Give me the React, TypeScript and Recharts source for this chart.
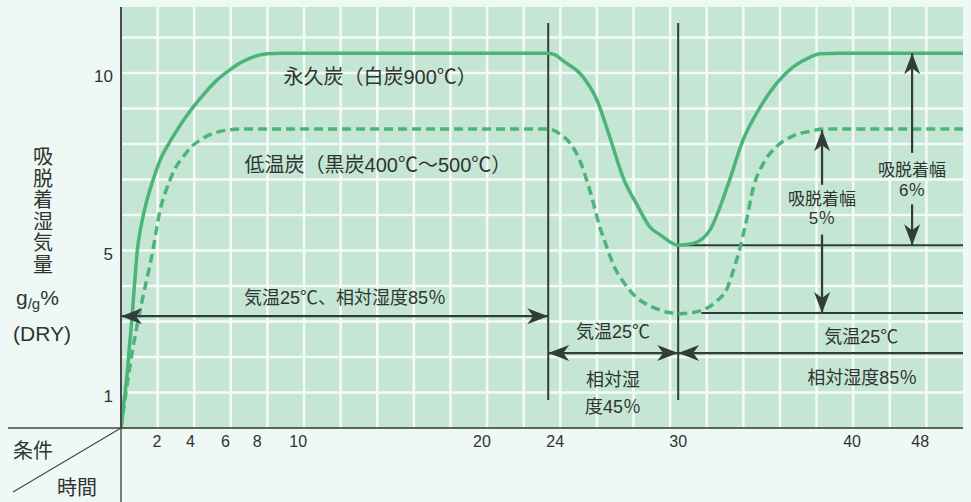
import { ComposedChart, Line, XAxis, YAxis, CartesianGrid, ReferenceLine, ReferenceDot } from 'recharts'

// x is kept in grid squares (the hour scale of the original is not linear),
// y is moisture in g/g% (1 square = 1%)
const hourTickPos = [0.98, 1.9, 2.85, 3.72, 4.84, 9.86, 11.86, 15.22, 19.97, 21.83]
const hourTickLabels = ['2', '4', '6', '8', '10', '20', '24', '30', '40', '48']
const moistureTicks = [1, 5, 10]

// 永久炭 (白炭900℃)
const whiteX = [0, 0.08, 0.16, 0.23, 0.3, 0.37, 0.44, 0.57, 0.71, 0.88, 1.07, 1.3, 1.53, 1.75, 1.97, 2.3, 2.62, 2.95, 3.25, 3.6, 3.99, 4.4,
  11.67, 11.86, 12.08, 12.62, 13.0, 13.36, 13.72, 14.1, 14.45, 14.73, 15.22,
  15.63, 16.09, 16.56, 16.99, 17.46, 17.92, 18.36, 18.83, 19.1, 19.64, 23]
const whiteY = [0, 0.75, 1.44, 2.3, 3.1, 4.05, 4.95, 5.8, 6.42, 7.0, 7.55, 8.0, 8.39, 8.73, 9.04, 9.45, 9.8, 10.07, 10.28, 10.45, 10.54, 10.56,
  10.56, 10.51, 10.34, 9.89, 9.24, 8.17, 7.04, 6.28, 5.66, 5.44, 5.15,
  5.2, 5.58, 6.79, 8.11, 9.04, 9.72, 10.17, 10.45, 10.54, 10.56, 10.56]

// 低温炭 (黒炭400℃～500℃)
const blackX = [0, 0.15, 0.3, 0.45, 0.6, 0.75, 0.87, 0.97, 1.07, 1.2, 1.34, 1.5, 1.69, 1.9, 2.16, 2.4, 2.62, 2.95, 3.25,
  11.67, 12.0, 12.27, 12.54, 12.81, 13.09, 13.28, 13.44, 13.72, 14.1, 14.45, 14.73, 15.27, 15.82, 16.28, 16.56, 16.72,
  16.91, 17.1, 17.27, 17.54, 17.92, 18.36, 18.83, 19.18, 23]
const blackY = [0, 1.1, 2.1, 2.95, 3.7, 4.4, 5.0, 5.6, 6.15, 6.6, 6.99, 7.35, 7.63, 7.9, 8.11, 8.25, 8.33, 8.4, 8.42,
  8.42, 8.28, 8.02, 7.52, 6.68, 5.63, 5.07, 4.62, 4.12, 3.66, 3.44, 3.32, 3.22, 3.3, 3.58, 3.94, 4.42,
  5.07, 5.92, 6.76, 7.44, 7.94, 8.23, 8.36, 8.42, 8.42]

const whiteData = whiteX.map((x, i) => ({ x, y: whiteY[i] }))
const blackData = blackX.map((x, i) => ({ x, y: blackY[i] }))

const gridX = Array.from({ length: 22 }, (_, i) => i + 1)
const gridY = Array.from({ length: 11 }, (_, i) => i + 1)

const INK = '#333d38'
const TEXT = '#2f3431'
const CURVE = '#4bb578'
const FONT = '"Liberation Sans", "Noto Sans CJK JP", sans-serif'

function head(x: number, y: number, ux: number, uy: number) {
  const len = 21
  const half = 8
  const notch = 6
  const px = -uy
  const py = ux
  const bx = x - ux * len
  const by = y - uy * len
  const nx = x - ux * (len - notch)
  const ny = y - uy * (len - notch)
  return (
    <path
      d={`M${x},${y} L${bx + px * half},${by + py * half} L${nx},${ny} L${bx - px * half},${by - py * half} Z`}
      fill={INK}
    />
  )
}

const arrow = (start: boolean, end: boolean) => (p: any) => {
  const { x1, y1, x2, y2 } = p
  const len = Math.hypot(x2 - x1, y2 - y1) || 1
  const ux = (x2 - x1) / len
  const uy = (y2 - y1) / len
  return (
    <g>
      <line x1={x1} y1={y1} x2={x2} y2={y2} stroke={INK} strokeWidth={2.2} />
      {start && head(x1, y1, -ux, -uy)}
      {end && head(x2, y2, ux, uy)}
    </g>
  )
}

const note = (text: string, size = 18) => (p: any) => (
  <text x={p.cx} y={p.cy} textAnchor="middle" dominantBaseline="central" fontSize={size} fill={TEXT}>
    {text}
  </text>
)

export default function App() {
  return (
    <div style={{ position: 'absolute', left: 0, top: 0, width: 971, height: 502, background: '#eef8f4', fontFamily: FONT }}>
      <ComposedChart width={971} height={502} margin={{ top: 7, right: 8, bottom: 0, left: 0 }} style={{ fontFamily: FONT }}>
        <CartesianGrid
          fill="#c5e6d4"
          stroke="#f4fbf7"
          strokeWidth={2.5}
          verticalValues={gridX}
          horizontalValues={gridY}
        />
        <XAxis
          type="number"
          dataKey="x"
          domain={[0, 23]}
          ticks={hourTickPos}
          interval={0}
          tickFormatter={(v: number) => hourTickLabels[hourTickPos.indexOf(v)]}
          height={74}
          tickLine={false}
          axisLine={{ stroke: '#333', strokeWidth: 1.5 }}
          tick={{ fontSize: 16, fill: TEXT }}
          allowDataOverflow
        />
        <YAxis
          type="number"
          domain={[0, 11.86]}
          ticks={moistureTicks}
          interval={0}
          width={121}
          tickLine={false}
          axisLine={{ stroke: '#4a4a4a', strokeWidth: 2 }}
          tick={{ fontSize: 17, fill: TEXT, dy: 3 }}
          allowDataOverflow
        />

        {/* 条件の切り替え */}
        <ReferenceLine segment={[{ x: 11.67, y: 0.79 }, { x: 11.67, y: 11.41 }]} stroke={INK} strokeWidth={2} />
        <ReferenceLine segment={[{ x: 15.22, y: 0.79 }, { x: 15.22, y: 11.41 }]} stroke={INK} strokeWidth={2} />
        <ReferenceLine segment={[{ x: 15.22, y: 5.15 }, { x: 23, y: 5.15 }]} stroke={INK} strokeWidth={2} />
        <ReferenceLine segment={[{ x: 15.85, y: 3.24 }, { x: 23, y: 3.24 }]} stroke={INK} strokeWidth={2} />

        <Line data={blackData} dataKey="y" type="monotone" stroke={CURVE} strokeWidth={3.5} strokeDasharray="9 5" dot={false} isAnimationActive={false} />
        <Line data={whiteData} dataKey="y" type="monotone" stroke={CURVE} strokeWidth={3.5} dot={false} isAnimationActive={false} />

        <ReferenceLine segment={[{ x: 0, y: 3.15 }, { x: 11.67, y: 3.15 }]} shape={arrow(true, true)} />
        <ReferenceLine segment={[{ x: 11.67, y: 2.11 }, { x: 15.22, y: 2.11 }]} shape={arrow(true, true)} />
        <ReferenceLine segment={[{ x: 23, y: 2.11 }, { x: 15.22, y: 2.11 }]} shape={arrow(false, true)} />
        <ReferenceLine segment={[{ x: 19.15, y: 6.85 }, { x: 19.15, y: 8.39 }]} shape={arrow(false, true)} />
        <ReferenceLine segment={[{ x: 19.15, y: 5.45 }, { x: 19.15, y: 3.24 }]} shape={arrow(false, true)} />
        <ReferenceLine segment={[{ x: 21.61, y: 7.75 }, { x: 21.61, y: 10.56 }]} shape={arrow(false, true)} />
        <ReferenceLine segment={[{ x: 21.61, y: 6.3 }, { x: 21.61, y: 5.15 }]} shape={arrow(false, true)} />

        <ReferenceDot x={7.08} y={9.89} r={0} shape={note('永久炭（白炭900℃）', 20)} />
        <ReferenceDot x={7.02} y={7.41} r={0} shape={note('低温炭（黒炭400℃～500℃）', 20)} />
        <ReferenceDot x={6.12} y={3.66} r={0} shape={note('気温25℃、相対湿度85％')} />
        <ReferenceDot x={13.44} y={2.7} r={0} shape={note('気温25℃')} />
        <ReferenceDot x={13.44} y={1.35} r={0} shape={note('相対湿')} />
        <ReferenceDot x={13.44} y={0.59} r={0} shape={note('度45％')} />
        <ReferenceDot x={20.22} y={2.56} r={0} shape={note('気温25℃')} />
        <ReferenceDot x={20.25} y={1.41} r={0} shape={note('相対湿度85％')} />
        <ReferenceDot x={19.15} y={6.45} r={0} shape={note('吸脱着幅', 17)} />
        <ReferenceDot x={19.15} y={5.89} r={0} shape={note('5％', 17)} />
        <ReferenceDot x={21.61} y={7.24} r={0} shape={note('吸脱着幅', 17)} />
        <ReferenceDot x={21.61} y={6.68} r={0} shape={note('6％', 17)} />
      </ComposedChart>

      <svg width={971} height={502} style={{ position: 'absolute', left: 0, top: 0, pointerEvents: 'none' }} fontFamily={FONT}>
        <line x1={8} y1={428} x2={121} y2={428} stroke="#444" strokeWidth={1.5} />
        <line x1={121} y1={428} x2={121} y2={502} stroke="#555" strokeWidth={1.5} />
        <line x1={13} y1={492} x2={121} y2={428} stroke="#444" strokeWidth={1.2} />
        <text fill={TEXT} fontSize={20} textAnchor="middle">
          {'吸脱着湿気量'.split('').map((c, i) => (
            <tspan key={i} x={43} y={164 + 21.5 * i}>{c}</tspan>
          ))}
        </text>
        <text x={16} y={305} fill={TEXT} fontSize={21}>
          g<tspan fontSize={15} dy={4}>/g</tspan><tspan dy={-4}>%</tspan>
        </text>
        <text x={42} y={341} fill={TEXT} fontSize={21} textAnchor="middle">(DRY)</text>
        <text x={13} y={458} fill={TEXT} fontSize={20}>条件</text>
        <text x={57} y={495} fill={TEXT} fontSize={20}>時間</text>
      </svg>
    </div>
  )
}
